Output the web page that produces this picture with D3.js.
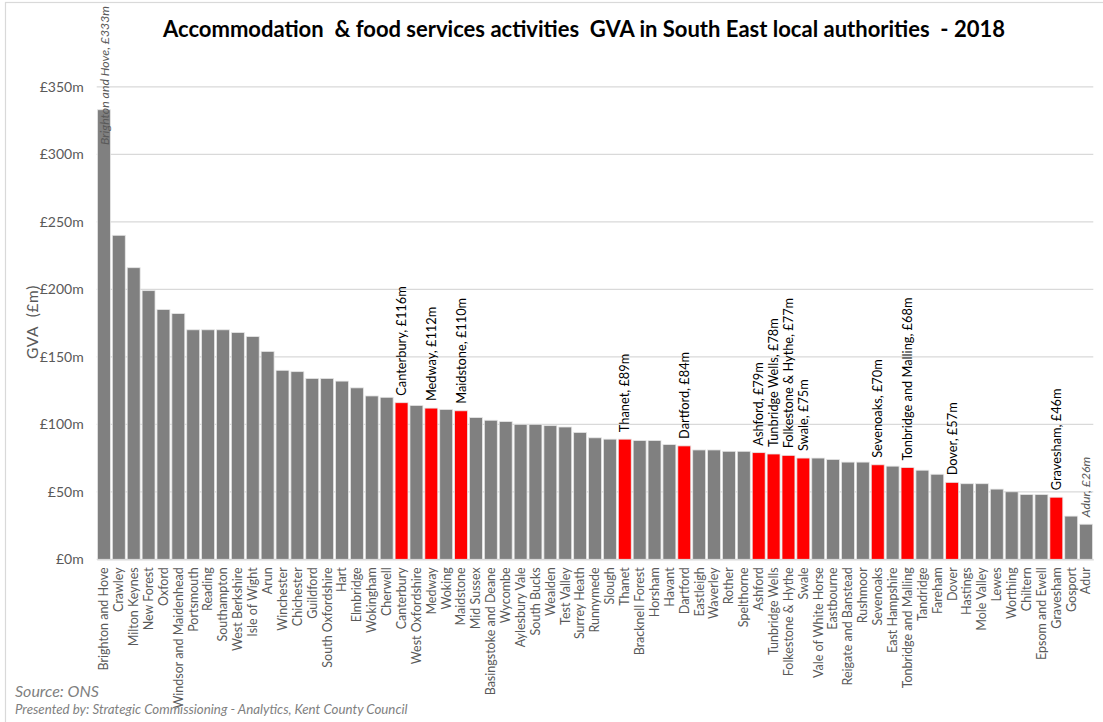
<!DOCTYPE html>
<html><head><meta charset="utf-8">
<script src="https://cdn.jsdelivr.net/npm/d3@7"></script>
<style>body{margin:0;background:#fff}svg{display:block}text{font-family:Lato,"Open Sans",sans-serif}</style>
</head><body>
<svg id="c" width="1103" height="722"></svg>
<script>
const categories = ["Brighton and Hove","Crawley","Milton Keynes","New Forest","Oxford","Windsor and Maidenhead","Portsmouth","Reading","Southampton","West Berkshire","Isle of Wight","Arun","Winchester","Chichester","Guildford","South Oxfordshire","Hart","Elmbridge","Wokingham","Cherwell","Canterbury","West Oxfordshire","Medway","Woking","Maidstone","Mid Sussex","Basingstoke and Deane","Wycombe","Aylesbury Vale","South Bucks","Wealden","Test Valley","Surrey Heath","Runnymede","Slough","Thanet","Bracknell Forest","Horsham","Havant","Dartford","Eastleigh","Waverley","Rother","Spelthorne","Ashford","Tunbridge Wells","Folkestone & Hythe","Swale","Vale of White Horse","Eastbourne","Reigate and Banstead","Rushmoor","Sevenoaks","East Hampshire","Tonbridge and Malling","Tandridge","Fareham","Dover","Hastings","Mole Valley","Lewes","Worthing","Chiltern","Epsom and Ewell","Gravesham","Gosport","Adur"];
const gva = [333,240,216,199,185,182,170,170,170,168,165,154,140,139,134,134,132,127,121,120,116,114,112,111,110,105,103,102,100,100,99,98,94,90,89,89,88,88,85,84,81,81,80,80,79,78,77,75,75,74,72,72,70,69,68,66,63,57,56,56,52,50,48,48,46,32,26];
const kentAuthorities = ["Canterbury","Medway","Maidstone","Thanet","Dartford","Ashford","Tunbridge Wells","Folkestone & Hythe","Swale","Sevenoaks","Tonbridge and Malling","Dover","Gravesham"];
const extremes = ["Brighton and Hove","Adur"];
const yTicks = [0,50,100,150,200,250,300,350];
const titleText = "Accommodation  & food services activities  GVA in South East local authorities  - 2018";

const data = categories.map((c,i)=>({name:c, value:gva[i]}));
const svg = d3.select("#c");
const pLeft = 96.7, pRight = 1093.3, pTop = 86.8, pBottom = 559.3;

// chart border
svg.append("rect").attr("x",5.5).attr("y",2.5).attr("width",1120).attr("height",740)
  .attr("fill","none").attr("stroke","#d9d9d9").attr("stroke-width",1.2);

const x = d3.scaleBand().domain(categories).range([pLeft,pRight]).paddingInner(0.13).paddingOuter(0.05);
const y = d3.scaleLinear().domain([0,350]).range([pBottom,pTop]);

// gridlines
svg.append("g").selectAll("line").data(yTicks).join("line")
  .attr("x1",pLeft).attr("x2",pRight).attr("y1",d=>y(d)).attr("y2",d=>y(d))
  .attr("stroke","#d9d9d9").attr("stroke-width",1.2);

// y axis labels
const yAxis = d3.axisLeft(y).tickValues(yTicks).tickSize(0).tickPadding(13).tickFormat(d=>"£"+d+"m");
const gy = svg.append("g").attr("transform",`translate(${pLeft},0)`).call(yAxis);
gy.select(".domain").remove();
gy.selectAll("text").attr("fill","#595959").style("font-size","14px").style("font-family","Lato");

// bars
svg.append("g").selectAll("rect").data(data).join("rect")
  .attr("x",d=>x(d.name)).attr("width",x.bandwidth())
  .attr("y",d=>y(d.value)).attr("height",d=>y(0)-y(d.value))
  .attr("fill",d=>kentAuthorities.includes(d.name)?"#ff0000":"#808080")
  .attr("stroke","#e6e6e6").attr("stroke-width",0.8);

// x axis
const xAxis = d3.axisBottom(x).tickSize(0).tickPadding(0);
const gx = svg.append("g").attr("transform",`translate(0,${pBottom})`).call(xAxis);
gx.select(".domain").attr("stroke","#d9d9d9").attr("stroke-width",1.2);
gx.selectAll("text").attr("fill","#595959").style("font-size","12.5px").style("font-family","Lato")
  .attr("text-anchor","end").attr("transform","rotate(-90)").attr("x",-8).attr("y",0).attr("dy","0.35em");

// data labels
const lab = svg.append("g");
data.forEach(d=>{
  const cx = x(d.name)+x.bandwidth()/2;
  if (kentAuthorities.includes(d.name)) {
    lab.append("text").attr("transform",`translate(${cx},${y(d.value)-7}) rotate(-90)`)
      .attr("dy","0.35em").attr("text-anchor","start").attr("fill","#000")
      .style("font-size","12.8px").text(`${d.name}, £${d.value}m`);
  } else if (extremes.includes(d.name)) {
    const isMax = d.value === d3.max(gva);
    const t = lab.append("text").attr("dy","0.35em").attr("fill","#595959")
      .style("font-size","12.3px").style("font-style","italic").text(`${d.name}, £${d.value}m`);
    if (isMax) t.attr("transform",`translate(${cx+1},6) rotate(-90)`).attr("text-anchor","end");
    else t.attr("transform",`translate(${cx},${y(d.value)-7}) rotate(-90)`).attr("text-anchor","start");
  }
});

// title
svg.append("text").attr("x",584).attr("y",37).attr("text-anchor","middle")
  .style("font-size","22.5px").style("font-weight","bold").attr("fill","#000")
  .attr("textLength",842).attr("lengthAdjust","spacingAndGlyphs")
  .style("white-space","pre").text(titleText);

// y axis title
svg.append("text").attr("transform","translate(33,322) rotate(-90)").attr("dy","0.35em")
  .attr("text-anchor","middle").attr("fill","#595959").style("font-size","15.5px")
  .style("letter-spacing","0.6px").style("white-space","pre").text("GVA  (£m)");

// source notes
svg.append("text").attr("x",15).attr("y",697).attr("fill","#7f7f7f").style("font-style","italic")
  .style("font-size","16px").text("Source: ONS");
svg.append("text").attr("x",15).attr("y",714).attr("fill","#7f7f7f").style("font-style","italic")
  .style("font-size","13.3px").text("Presented by: Strategic Commissioning - Analytics, Kent County Council");
</script>
</body></html>
